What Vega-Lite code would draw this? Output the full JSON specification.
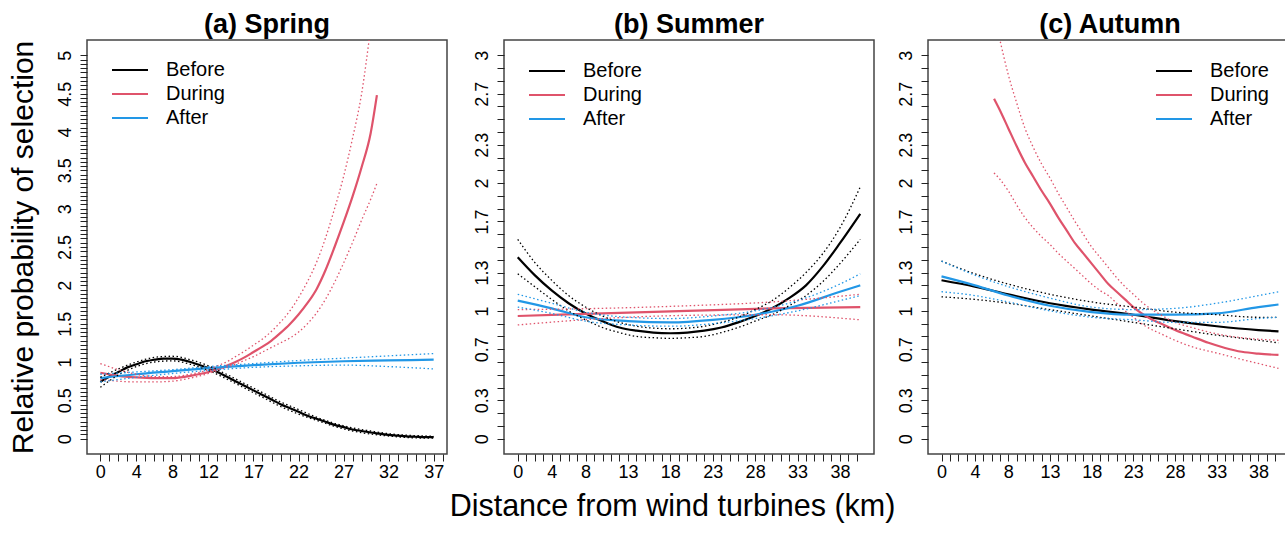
{
"$schema": "https://vega.github.io/schema/vega-lite/v6.json",
"padding": {"left": 7, "top": 10, "right": 0, "bottom": 0},
"config": {
 "font": "Liberation Sans",
 "view": {"stroke": "#444", "strokeWidth": 1.5},
 "axis": {"labelFontSize": 18, "labelColor": "#000", "tickColor": "#222", "tickSize": 7, "tickWidth": 1, "domain": false, "grid": false, "labelOverlap": false, "labelFlush": false, "labelBound": false, "titleColor": "#000", "titleFontWeight": "normal", "titleFontSize": 30},
 "title": {"fontSize": 27, "fontWeight": "bold", "color": "#000", "offset": 1},
 "legend": {"title": null, "symbolType": "M-2,0H2", "symbolSize": 324, "symbolStrokeWidth": 2, "labelFontSize": 20, "labelColor": "#000", "labelOffset": 26, "rowPadding": 4, "padding": 0}
},
"data": {"values": [
{"s":"Spring","p":"Before","c":"fit","x":0,"y":0.74},{"s":"Spring","p":"Before","c":"fit","x":1,"y":0.81},{"s":"Spring","p":"Before","c":"fit","x":2,"y":0.87},{"s":"Spring","p":"Before","c":"fit","x":3,"y":0.93},{"s":"Spring","p":"Before","c":"fit","x":4,"y":0.97},{"s":"Spring","p":"Before","c":"fit","x":5,"y":1.01},{"s":"Spring","p":"Before","c":"fit","x":6,"y":1.03},{"s":"Spring","p":"Before","c":"fit","x":7,"y":1.045},{"s":"Spring","p":"Before","c":"fit","x":8,"y":1.045},{"s":"Spring","p":"Before","c":"fit","x":9,"y":1.03},{"s":"Spring","p":"Before","c":"fit","x":10,"y":1.0},{"s":"Spring","p":"Before","c":"fit","x":11,"y":0.96},{"s":"Spring","p":"Before","c":"fit","x":12,"y":0.92},{"s":"Spring","p":"Before","c":"fit","x":13,"y":0.87},{"s":"Spring","p":"Before","c":"fit","x":14,"y":0.81},{"s":"Spring","p":"Before","c":"fit","x":15,"y":0.75},{"s":"Spring","p":"Before","c":"fit","x":16,"y":0.69},{"s":"Spring","p":"Before","c":"fit","x":17,"y":0.63},{"s":"Spring","p":"Before","c":"fit","x":18,"y":0.57},{"s":"Spring","p":"Before","c":"fit","x":19,"y":0.51},{"s":"Spring","p":"Before","c":"fit","x":20,"y":0.45},{"s":"Spring","p":"Before","c":"fit","x":21,"y":0.4},{"s":"Spring","p":"Before","c":"fit","x":22,"y":0.35},{"s":"Spring","p":"Before","c":"fit","x":23,"y":0.3},{"s":"Spring","p":"Before","c":"fit","x":24,"y":0.26},{"s":"Spring","p":"Before","c":"fit","x":25,"y":0.22},{"s":"Spring","p":"Before","c":"fit","x":26,"y":0.18},{"s":"Spring","p":"Before","c":"fit","x":27,"y":0.15},{"s":"Spring","p":"Before","c":"fit","x":28,"y":0.12},{"s":"Spring","p":"Before","c":"fit","x":29,"y":0.1},{"s":"Spring","p":"Before","c":"fit","x":30,"y":0.08},{"s":"Spring","p":"Before","c":"fit","x":31,"y":0.065},{"s":"Spring","p":"Before","c":"fit","x":32,"y":0.05},{"s":"Spring","p":"Before","c":"fit","x":33,"y":0.04},{"s":"Spring","p":"Before","c":"fit","x":34,"y":0.03},{"s":"Spring","p":"Before","c":"fit","x":35,"y":0.025},{"s":"Spring","p":"Before","c":"fit","x":36,"y":0.02},{"s":"Spring","p":"Before","c":"fit","x":37,"y":0.02},
{"s":"Spring","p":"Before","c":"upper","x":0,"y":0.8},{"s":"Spring","p":"Before","c":"upper","x":2,"y":0.91},{"s":"Spring","p":"Before","c":"upper","x":4,"y":1.0},{"s":"Spring","p":"Before","c":"upper","x":6,"y":1.06},{"s":"Spring","p":"Before","c":"upper","x":8,"y":1.075},{"s":"Spring","p":"Before","c":"upper","x":10,"y":1.03},{"s":"Spring","p":"Before","c":"upper","x":12,"y":0.95},{"s":"Spring","p":"Before","c":"upper","x":14,"y":0.84},{"s":"Spring","p":"Before","c":"upper","x":16,"y":0.72},{"s":"Spring","p":"Before","c":"upper","x":18,"y":0.6},{"s":"Spring","p":"Before","c":"upper","x":20,"y":0.48},{"s":"Spring","p":"Before","c":"upper","x":22,"y":0.38},{"s":"Spring","p":"Before","c":"upper","x":24,"y":0.28},{"s":"Spring","p":"Before","c":"upper","x":26,"y":0.2},{"s":"Spring","p":"Before","c":"upper","x":28,"y":0.14},{"s":"Spring","p":"Before","c":"upper","x":30,"y":0.1},{"s":"Spring","p":"Before","c":"upper","x":32,"y":0.065},{"s":"Spring","p":"Before","c":"upper","x":34,"y":0.045},{"s":"Spring","p":"Before","c":"upper","x":36,"y":0.035},{"s":"Spring","p":"Before","c":"upper","x":37,"y":0.03},
{"s":"Spring","p":"Before","c":"lower","x":0,"y":0.67},{"s":"Spring","p":"Before","c":"lower","x":2,"y":0.83},{"s":"Spring","p":"Before","c":"lower","x":4,"y":0.94},{"s":"Spring","p":"Before","c":"lower","x":6,"y":1.0},{"s":"Spring","p":"Before","c":"lower","x":8,"y":1.015},{"s":"Spring","p":"Before","c":"lower","x":10,"y":0.97},{"s":"Spring","p":"Before","c":"lower","x":12,"y":0.89},{"s":"Spring","p":"Before","c":"lower","x":14,"y":0.78},{"s":"Spring","p":"Before","c":"lower","x":16,"y":0.66},{"s":"Spring","p":"Before","c":"lower","x":18,"y":0.54},{"s":"Spring","p":"Before","c":"lower","x":20,"y":0.42},{"s":"Spring","p":"Before","c":"lower","x":22,"y":0.32},{"s":"Spring","p":"Before","c":"lower","x":24,"y":0.24},{"s":"Spring","p":"Before","c":"lower","x":26,"y":0.16},{"s":"Spring","p":"Before","c":"lower","x":28,"y":0.1},{"s":"Spring","p":"Before","c":"lower","x":30,"y":0.06},{"s":"Spring","p":"Before","c":"lower","x":32,"y":0.035},{"s":"Spring","p":"Before","c":"lower","x":34,"y":0.015},{"s":"Spring","p":"Before","c":"lower","x":36,"y":0.008},{"s":"Spring","p":"Before","c":"lower","x":37,"y":0.008},
{"s":"Spring","p":"During","c":"fit","x":0,"y":0.86},{"s":"Spring","p":"During","c":"fit","x":2,"y":0.82},{"s":"Spring","p":"During","c":"fit","x":4,"y":0.8},{"s":"Spring","p":"During","c":"fit","x":6,"y":0.79},{"s":"Spring","p":"During","c":"fit","x":8,"y":0.79},{"s":"Spring","p":"During","c":"fit","x":10,"y":0.82},{"s":"Spring","p":"During","c":"fit","x":12,"y":0.87},{"s":"Spring","p":"During","c":"fit","x":13,"y":0.91},{"s":"Spring","p":"During","c":"fit","x":14,"y":0.95},{"s":"Spring","p":"During","c":"fit","x":15,"y":1.0},{"s":"Spring","p":"During","c":"fit","x":16,"y":1.06},{"s":"Spring","p":"During","c":"fit","x":17,"y":1.13},{"s":"Spring","p":"During","c":"fit","x":18,"y":1.2},{"s":"Spring","p":"During","c":"fit","x":19,"y":1.28},{"s":"Spring","p":"During","c":"fit","x":20,"y":1.38},{"s":"Spring","p":"During","c":"fit","x":21,"y":1.49},{"s":"Spring","p":"During","c":"fit","x":22,"y":1.62},{"s":"Spring","p":"During","c":"fit","x":23,"y":1.77},{"s":"Spring","p":"During","c":"fit","x":24,"y":1.95},{"s":"Spring","p":"During","c":"fit","x":25,"y":2.2},{"s":"Spring","p":"During","c":"fit","x":26,"y":2.5},{"s":"Spring","p":"During","c":"fit","x":27,"y":2.82},{"s":"Spring","p":"During","c":"fit","x":28,"y":3.16},{"s":"Spring","p":"During","c":"fit","x":29,"y":3.54},{"s":"Spring","p":"During","c":"fit","x":30,"y":3.98},{"s":"Spring","p":"During","c":"fit","x":30.7,"y":4.48},
{"s":"Spring","p":"During","c":"upper","x":0,"y":0.98},{"s":"Spring","p":"During","c":"upper","x":2,"y":0.9},{"s":"Spring","p":"During","c":"upper","x":4,"y":0.84},{"s":"Spring","p":"During","c":"upper","x":6,"y":0.81},{"s":"Spring","p":"During","c":"upper","x":8,"y":0.81},{"s":"Spring","p":"During","c":"upper","x":10,"y":0.84},{"s":"Spring","p":"During","c":"upper","x":12,"y":0.9},{"s":"Spring","p":"During","c":"upper","x":13,"y":0.95},{"s":"Spring","p":"During","c":"upper","x":14,"y":1.0},{"s":"Spring","p":"During","c":"upper","x":15,"y":1.07},{"s":"Spring","p":"During","c":"upper","x":16,"y":1.14},{"s":"Spring","p":"During","c":"upper","x":17,"y":1.22},{"s":"Spring","p":"During","c":"upper","x":18,"y":1.3},{"s":"Spring","p":"During","c":"upper","x":19,"y":1.4},{"s":"Spring","p":"During","c":"upper","x":20,"y":1.52},{"s":"Spring","p":"During","c":"upper","x":21,"y":1.66},{"s":"Spring","p":"During","c":"upper","x":22,"y":1.84},{"s":"Spring","p":"During","c":"upper","x":23,"y":2.05},{"s":"Spring","p":"During","c":"upper","x":24,"y":2.3},{"s":"Spring","p":"During","c":"upper","x":25,"y":2.62},{"s":"Spring","p":"During","c":"upper","x":26,"y":3.0},{"s":"Spring","p":"During","c":"upper","x":27,"y":3.42},{"s":"Spring","p":"During","c":"upper","x":28,"y":3.92},{"s":"Spring","p":"During","c":"upper","x":29,"y":4.5},{"s":"Spring","p":"During","c":"upper","x":30,"y":5.35},{"s":"Spring","p":"During","c":"upper","x":30.7,"y":6.0},
{"s":"Spring","p":"During","c":"lower","x":0,"y":0.77},{"s":"Spring","p":"During","c":"lower","x":2,"y":0.75},{"s":"Spring","p":"During","c":"lower","x":4,"y":0.74},{"s":"Spring","p":"During","c":"lower","x":6,"y":0.74},{"s":"Spring","p":"During","c":"lower","x":8,"y":0.75},{"s":"Spring","p":"During","c":"lower","x":10,"y":0.79},{"s":"Spring","p":"During","c":"lower","x":12,"y":0.85},{"s":"Spring","p":"During","c":"lower","x":13,"y":0.89},{"s":"Spring","p":"During","c":"lower","x":14,"y":0.93},{"s":"Spring","p":"During","c":"lower","x":15,"y":0.97},{"s":"Spring","p":"During","c":"lower","x":16,"y":1.02},{"s":"Spring","p":"During","c":"lower","x":17,"y":1.07},{"s":"Spring","p":"During","c":"lower","x":18,"y":1.13},{"s":"Spring","p":"During","c":"lower","x":19,"y":1.19},{"s":"Spring","p":"During","c":"lower","x":20,"y":1.25},{"s":"Spring","p":"During","c":"lower","x":21,"y":1.31},{"s":"Spring","p":"During","c":"lower","x":22,"y":1.39},{"s":"Spring","p":"During","c":"lower","x":23,"y":1.5},{"s":"Spring","p":"During","c":"lower","x":24,"y":1.64},{"s":"Spring","p":"During","c":"lower","x":25,"y":1.82},{"s":"Spring","p":"During","c":"lower","x":26,"y":2.04},{"s":"Spring","p":"During","c":"lower","x":27,"y":2.29},{"s":"Spring","p":"During","c":"lower","x":28,"y":2.56},{"s":"Spring","p":"During","c":"lower","x":29,"y":2.85},{"s":"Spring","p":"During","c":"lower","x":30,"y":3.12},{"s":"Spring","p":"During","c":"lower","x":30.7,"y":3.33},
{"s":"Spring","p":"After","c":"fit","x":0,"y":0.79},{"s":"Spring","p":"After","c":"fit","x":4,"y":0.84},{"s":"Spring","p":"After","c":"fit","x":8,"y":0.88},{"s":"Spring","p":"After","c":"fit","x":12,"y":0.92},{"s":"Spring","p":"After","c":"fit","x":17,"y":0.96},{"s":"Spring","p":"After","c":"fit","x":22,"y":0.99},{"s":"Spring","p":"After","c":"fit","x":27,"y":1.01},{"s":"Spring","p":"After","c":"fit","x":32,"y":1.02},{"s":"Spring","p":"After","c":"fit","x":37,"y":1.03},
{"s":"Spring","p":"After","c":"upper","x":0,"y":0.84},{"s":"Spring","p":"After","c":"upper","x":4,"y":0.87},{"s":"Spring","p":"After","c":"upper","x":8,"y":0.9},{"s":"Spring","p":"After","c":"upper","x":12,"y":0.94},{"s":"Spring","p":"After","c":"upper","x":17,"y":0.98},{"s":"Spring","p":"After","c":"upper","x":22,"y":1.02},{"s":"Spring","p":"After","c":"upper","x":27,"y":1.05},{"s":"Spring","p":"After","c":"upper","x":32,"y":1.08},{"s":"Spring","p":"After","c":"upper","x":37,"y":1.11},
{"s":"Spring","p":"After","c":"lower","x":0,"y":0.74},{"s":"Spring","p":"After","c":"lower","x":4,"y":0.8},{"s":"Spring","p":"After","c":"lower","x":8,"y":0.85},{"s":"Spring","p":"After","c":"lower","x":12,"y":0.89},{"s":"Spring","p":"After","c":"lower","x":17,"y":0.93},{"s":"Spring","p":"After","c":"lower","x":22,"y":0.95},{"s":"Spring","p":"After","c":"lower","x":27,"y":0.96},{"s":"Spring","p":"After","c":"lower","x":32,"y":0.94},{"s":"Spring","p":"After","c":"lower","x":37,"y":0.91},
{"s":"Summer","p":"Before","c":"fit","x":0,"y":1.42},{"s":"Summer","p":"Before","c":"fit","x":2,"y":1.28},{"s":"Summer","p":"Before","c":"fit","x":4,"y":1.16},{"s":"Summer","p":"Before","c":"fit","x":6,"y":1.06},{"s":"Summer","p":"Before","c":"fit","x":8,"y":0.98},{"s":"Summer","p":"Before","c":"fit","x":10,"y":0.92},{"s":"Summer","p":"Before","c":"fit","x":12,"y":0.87},{"s":"Summer","p":"Before","c":"fit","x":14,"y":0.845},{"s":"Summer","p":"Before","c":"fit","x":16,"y":0.83},{"s":"Summer","p":"Before","c":"fit","x":18,"y":0.825},{"s":"Summer","p":"Before","c":"fit","x":20,"y":0.83},{"s":"Summer","p":"Before","c":"fit","x":22,"y":0.845},{"s":"Summer","p":"Before","c":"fit","x":24,"y":0.87},{"s":"Summer","p":"Before","c":"fit","x":26,"y":0.91},{"s":"Summer","p":"Before","c":"fit","x":28,"y":0.96},{"s":"Summer","p":"Before","c":"fit","x":30,"y":1.02},{"s":"Summer","p":"Before","c":"fit","x":32,"y":1.1},{"s":"Summer","p":"Before","c":"fit","x":34,"y":1.2},{"s":"Summer","p":"Before","c":"fit","x":36,"y":1.35},{"s":"Summer","p":"Before","c":"fit","x":38,"y":1.53},{"s":"Summer","p":"Before","c":"fit","x":40.4,"y":1.76},
{"s":"Summer","p":"Before","c":"upper","x":0,"y":1.56},{"s":"Summer","p":"Before","c":"upper","x":2,"y":1.38},{"s":"Summer","p":"Before","c":"upper","x":4,"y":1.24},{"s":"Summer","p":"Before","c":"upper","x":6,"y":1.12},{"s":"Summer","p":"Before","c":"upper","x":8,"y":1.03},{"s":"Summer","p":"Before","c":"upper","x":10,"y":0.96},{"s":"Summer","p":"Before","c":"upper","x":12,"y":0.91},{"s":"Summer","p":"Before","c":"upper","x":14,"y":0.88},{"s":"Summer","p":"Before","c":"upper","x":16,"y":0.865},{"s":"Summer","p":"Before","c":"upper","x":18,"y":0.86},{"s":"Summer","p":"Before","c":"upper","x":20,"y":0.865},{"s":"Summer","p":"Before","c":"upper","x":22,"y":0.88},{"s":"Summer","p":"Before","c":"upper","x":24,"y":0.91},{"s":"Summer","p":"Before","c":"upper","x":26,"y":0.95},{"s":"Summer","p":"Before","c":"upper","x":28,"y":1.01},{"s":"Summer","p":"Before","c":"upper","x":30,"y":1.08},{"s":"Summer","p":"Before","c":"upper","x":32,"y":1.18},{"s":"Summer","p":"Before","c":"upper","x":34,"y":1.3},{"s":"Summer","p":"Before","c":"upper","x":36,"y":1.45},{"s":"Summer","p":"Before","c":"upper","x":38,"y":1.65},{"s":"Summer","p":"Before","c":"upper","x":40.4,"y":1.97},
{"s":"Summer","p":"Before","c":"lower","x":0,"y":1.29},{"s":"Summer","p":"Before","c":"lower","x":2,"y":1.19},{"s":"Summer","p":"Before","c":"lower","x":4,"y":1.09},{"s":"Summer","p":"Before","c":"lower","x":6,"y":1.0},{"s":"Summer","p":"Before","c":"lower","x":8,"y":0.93},{"s":"Summer","p":"Before","c":"lower","x":10,"y":0.87},{"s":"Summer","p":"Before","c":"lower","x":12,"y":0.83},{"s":"Summer","p":"Before","c":"lower","x":14,"y":0.8},{"s":"Summer","p":"Before","c":"lower","x":16,"y":0.79},{"s":"Summer","p":"Before","c":"lower","x":18,"y":0.785},{"s":"Summer","p":"Before","c":"lower","x":20,"y":0.79},{"s":"Summer","p":"Before","c":"lower","x":22,"y":0.8},{"s":"Summer","p":"Before","c":"lower","x":24,"y":0.83},{"s":"Summer","p":"Before","c":"lower","x":26,"y":0.87},{"s":"Summer","p":"Before","c":"lower","x":28,"y":0.92},{"s":"Summer","p":"Before","c":"lower","x":30,"y":0.97},{"s":"Summer","p":"Before","c":"lower","x":32,"y":1.04},{"s":"Summer","p":"Before","c":"lower","x":34,"y":1.12},{"s":"Summer","p":"Before","c":"lower","x":36,"y":1.23},{"s":"Summer","p":"Before","c":"lower","x":38,"y":1.37},{"s":"Summer","p":"Before","c":"lower","x":40.4,"y":1.56},
{"s":"Summer","p":"During","c":"fit","x":0,"y":0.96},{"s":"Summer","p":"During","c":"fit","x":10,"y":0.98},{"s":"Summer","p":"During","c":"fit","x":20,"y":1.0},{"s":"Summer","p":"During","c":"fit","x":30,"y":1.02},{"s":"Summer","p":"During","c":"fit","x":40.4,"y":1.03},
{"s":"Summer","p":"During","c":"upper","x":0,"y":1.01},{"s":"Summer","p":"During","c":"upper","x":10,"y":1.02},{"s":"Summer","p":"During","c":"upper","x":20,"y":1.04},{"s":"Summer","p":"During","c":"upper","x":30,"y":1.07},{"s":"Summer","p":"During","c":"upper","x":40.4,"y":1.13},
{"s":"Summer","p":"During","c":"lower","x":0,"y":0.89},{"s":"Summer","p":"During","c":"lower","x":10,"y":0.94},{"s":"Summer","p":"During","c":"lower","x":20,"y":0.965},{"s":"Summer","p":"During","c":"lower","x":30,"y":0.97},{"s":"Summer","p":"During","c":"lower","x":40.4,"y":0.93},
{"s":"Summer","p":"After","c":"fit","x":0,"y":1.08},{"s":"Summer","p":"After","c":"fit","x":4,"y":1.02},{"s":"Summer","p":"After","c":"fit","x":8,"y":0.95},{"s":"Summer","p":"After","c":"fit","x":13,"y":0.92},{"s":"Summer","p":"After","c":"fit","x":18,"y":0.91},{"s":"Summer","p":"After","c":"fit","x":23,"y":0.93},{"s":"Summer","p":"After","c":"fit","x":28,"y":0.97},{"s":"Summer","p":"After","c":"fit","x":33,"y":1.04},{"s":"Summer","p":"After","c":"fit","x":38,"y":1.15},{"s":"Summer","p":"After","c":"fit","x":40.4,"y":1.2},
{"s":"Summer","p":"After","c":"upper","x":0,"y":1.13},{"s":"Summer","p":"After","c":"upper","x":4,"y":1.06},{"s":"Summer","p":"After","c":"upper","x":8,"y":0.99},{"s":"Summer","p":"After","c":"upper","x":13,"y":0.95},{"s":"Summer","p":"After","c":"upper","x":18,"y":0.94},{"s":"Summer","p":"After","c":"upper","x":23,"y":0.96},{"s":"Summer","p":"After","c":"upper","x":28,"y":1.0},{"s":"Summer","p":"After","c":"upper","x":33,"y":1.08},{"s":"Summer","p":"After","c":"upper","x":38,"y":1.21},{"s":"Summer","p":"After","c":"upper","x":40.4,"y":1.29},
{"s":"Summer","p":"After","c":"lower","x":0,"y":1.03},{"s":"Summer","p":"After","c":"lower","x":4,"y":0.98},{"s":"Summer","p":"After","c":"lower","x":8,"y":0.92},{"s":"Summer","p":"After","c":"lower","x":13,"y":0.89},{"s":"Summer","p":"After","c":"lower","x":18,"y":0.88},{"s":"Summer","p":"After","c":"lower","x":23,"y":0.9},{"s":"Summer","p":"After","c":"lower","x":28,"y":0.94},{"s":"Summer","p":"After","c":"lower","x":33,"y":1.0},{"s":"Summer","p":"After","c":"lower","x":38,"y":1.08},{"s":"Summer","p":"After","c":"lower","x":40.4,"y":1.12},
{"s":"Autumn","p":"Before","c":"fit","x":0,"y":1.24},{"s":"Autumn","p":"Before","c":"fit","x":4,"y":1.19},{"s":"Autumn","p":"Before","c":"fit","x":8,"y":1.13},{"s":"Autumn","p":"Before","c":"fit","x":13,"y":1.06},{"s":"Autumn","p":"Before","c":"fit","x":18,"y":1.01},{"s":"Autumn","p":"Before","c":"fit","x":23,"y":0.97},{"s":"Autumn","p":"Before","c":"fit","x":28,"y":0.92},{"s":"Autumn","p":"Before","c":"fit","x":33,"y":0.88},{"s":"Autumn","p":"Before","c":"fit","x":38,"y":0.85},{"s":"Autumn","p":"Before","c":"fit","x":40.4,"y":0.84},
{"s":"Autumn","p":"Before","c":"upper","x":0,"y":1.39},{"s":"Autumn","p":"Before","c":"upper","x":4,"y":1.29},{"s":"Autumn","p":"Before","c":"upper","x":8,"y":1.21},{"s":"Autumn","p":"Before","c":"upper","x":13,"y":1.13},{"s":"Autumn","p":"Before","c":"upper","x":18,"y":1.07},{"s":"Autumn","p":"Before","c":"upper","x":23,"y":1.03},{"s":"Autumn","p":"Before","c":"upper","x":28,"y":0.99},{"s":"Autumn","p":"Before","c":"upper","x":33,"y":0.97},{"s":"Autumn","p":"Before","c":"upper","x":38,"y":0.95},{"s":"Autumn","p":"Before","c":"upper","x":40.4,"y":0.95},
{"s":"Autumn","p":"Before","c":"lower","x":0,"y":1.11},{"s":"Autumn","p":"Before","c":"lower","x":4,"y":1.09},{"s":"Autumn","p":"Before","c":"lower","x":8,"y":1.06},{"s":"Autumn","p":"Before","c":"lower","x":13,"y":1.01},{"s":"Autumn","p":"Before","c":"lower","x":18,"y":0.96},{"s":"Autumn","p":"Before","c":"lower","x":23,"y":0.91},{"s":"Autumn","p":"Before","c":"lower","x":28,"y":0.86},{"s":"Autumn","p":"Before","c":"lower","x":33,"y":0.81},{"s":"Autumn","p":"Before","c":"lower","x":38,"y":0.77},{"s":"Autumn","p":"Before","c":"lower","x":40.4,"y":0.75},
{"s":"Autumn","p":"During","c":"fit","x":6.3,"y":2.66},{"s":"Autumn","p":"During","c":"fit","x":7,"y":2.57},{"s":"Autumn","p":"During","c":"fit","x":8,"y":2.43},{"s":"Autumn","p":"During","c":"fit","x":9,"y":2.29},{"s":"Autumn","p":"During","c":"fit","x":10,"y":2.16},{"s":"Autumn","p":"During","c":"fit","x":11,"y":2.05},{"s":"Autumn","p":"During","c":"fit","x":12,"y":1.94},{"s":"Autumn","p":"During","c":"fit","x":13,"y":1.84},{"s":"Autumn","p":"During","c":"fit","x":14,"y":1.73},{"s":"Autumn","p":"During","c":"fit","x":15,"y":1.63},{"s":"Autumn","p":"During","c":"fit","x":16,"y":1.53},{"s":"Autumn","p":"During","c":"fit","x":17,"y":1.45},{"s":"Autumn","p":"During","c":"fit","x":18,"y":1.37},{"s":"Autumn","p":"During","c":"fit","x":19,"y":1.29},{"s":"Autumn","p":"During","c":"fit","x":20,"y":1.21},{"s":"Autumn","p":"During","c":"fit","x":21,"y":1.15},{"s":"Autumn","p":"During","c":"fit","x":22,"y":1.09},{"s":"Autumn","p":"During","c":"fit","x":23,"y":1.03},{"s":"Autumn","p":"During","c":"fit","x":24,"y":0.98},{"s":"Autumn","p":"During","c":"fit","x":25,"y":0.94},{"s":"Autumn","p":"During","c":"fit","x":26,"y":0.91},{"s":"Autumn","p":"During","c":"fit","x":27,"y":0.88},{"s":"Autumn","p":"During","c":"fit","x":28,"y":0.85},{"s":"Autumn","p":"During","c":"fit","x":30,"y":0.8},{"s":"Autumn","p":"During","c":"fit","x":32,"y":0.75},{"s":"Autumn","p":"During","c":"fit","x":34,"y":0.71},{"s":"Autumn","p":"During","c":"fit","x":36,"y":0.68},{"s":"Autumn","p":"During","c":"fit","x":38,"y":0.665},{"s":"Autumn","p":"During","c":"fit","x":40.4,"y":0.655},
{"s":"Autumn","p":"During","c":"upper","x":6.3,"y":3.32},{"s":"Autumn","p":"During","c":"upper","x":7,"y":3.12},{"s":"Autumn","p":"During","c":"upper","x":8,"y":2.85},{"s":"Autumn","p":"During","c":"upper","x":9,"y":2.63},{"s":"Autumn","p":"During","c":"upper","x":10,"y":2.43},{"s":"Autumn","p":"During","c":"upper","x":11,"y":2.28},{"s":"Autumn","p":"During","c":"upper","x":12,"y":2.15},{"s":"Autumn","p":"During","c":"upper","x":13,"y":2.04},{"s":"Autumn","p":"During","c":"upper","x":14,"y":1.92},{"s":"Autumn","p":"During","c":"upper","x":15,"y":1.81},{"s":"Autumn","p":"During","c":"upper","x":16,"y":1.7},{"s":"Autumn","p":"During","c":"upper","x":17,"y":1.6},{"s":"Autumn","p":"During","c":"upper","x":18,"y":1.5},{"s":"Autumn","p":"During","c":"upper","x":19,"y":1.42},{"s":"Autumn","p":"During","c":"upper","x":20,"y":1.34},{"s":"Autumn","p":"During","c":"upper","x":21,"y":1.26},{"s":"Autumn","p":"During","c":"upper","x":22,"y":1.19},{"s":"Autumn","p":"During","c":"upper","x":23,"y":1.13},{"s":"Autumn","p":"During","c":"upper","x":24,"y":1.07},{"s":"Autumn","p":"During","c":"upper","x":25,"y":1.02},{"s":"Autumn","p":"During","c":"upper","x":26,"y":0.98},{"s":"Autumn","p":"During","c":"upper","x":28,"y":0.91},{"s":"Autumn","p":"During","c":"upper","x":30,"y":0.87},{"s":"Autumn","p":"During","c":"upper","x":33,"y":0.82},{"s":"Autumn","p":"During","c":"upper","x":36,"y":0.79},{"s":"Autumn","p":"During","c":"upper","x":40.4,"y":0.77},
{"s":"Autumn","p":"During","c":"lower","x":6.3,"y":2.08},{"s":"Autumn","p":"During","c":"lower","x":7,"y":2.03},{"s":"Autumn","p":"During","c":"lower","x":8,"y":1.94},{"s":"Autumn","p":"During","c":"lower","x":9,"y":1.83},{"s":"Autumn","p":"During","c":"lower","x":10,"y":1.73},{"s":"Autumn","p":"During","c":"lower","x":11,"y":1.65},{"s":"Autumn","p":"During","c":"lower","x":12,"y":1.58},{"s":"Autumn","p":"During","c":"lower","x":13,"y":1.52},{"s":"Autumn","p":"During","c":"lower","x":14,"y":1.45},{"s":"Autumn","p":"During","c":"lower","x":15,"y":1.39},{"s":"Autumn","p":"During","c":"lower","x":16,"y":1.33},{"s":"Autumn","p":"During","c":"lower","x":17,"y":1.27},{"s":"Autumn","p":"During","c":"lower","x":18,"y":1.21},{"s":"Autumn","p":"During","c":"lower","x":19,"y":1.16},{"s":"Autumn","p":"During","c":"lower","x":20,"y":1.12},{"s":"Autumn","p":"During","c":"lower","x":21,"y":1.06},{"s":"Autumn","p":"During","c":"lower","x":22,"y":1.0},{"s":"Autumn","p":"During","c":"lower","x":23,"y":0.95},{"s":"Autumn","p":"During","c":"lower","x":24,"y":0.9},{"s":"Autumn","p":"During","c":"lower","x":25,"y":0.86},{"s":"Autumn","p":"During","c":"lower","x":26,"y":0.83},{"s":"Autumn","p":"During","c":"lower","x":28,"y":0.77},{"s":"Autumn","p":"During","c":"lower","x":30,"y":0.72},{"s":"Autumn","p":"During","c":"lower","x":33,"y":0.67},{"s":"Autumn","p":"During","c":"lower","x":36,"y":0.62},{"s":"Autumn","p":"During","c":"lower","x":40.4,"y":0.55},
{"s":"Autumn","p":"After","c":"fit","x":0,"y":1.27},{"s":"Autumn","p":"After","c":"fit","x":4,"y":1.2},{"s":"Autumn","p":"After","c":"fit","x":8,"y":1.12},{"s":"Autumn","p":"After","c":"fit","x":13,"y":1.04},{"s":"Autumn","p":"After","c":"fit","x":18,"y":0.99},{"s":"Autumn","p":"After","c":"fit","x":23,"y":0.97},{"s":"Autumn","p":"After","c":"fit","x":28,"y":0.97},{"s":"Autumn","p":"After","c":"fit","x":33,"y":0.98},{"s":"Autumn","p":"After","c":"fit","x":38,"y":1.03},{"s":"Autumn","p":"After","c":"fit","x":40.4,"y":1.05},
{"s":"Autumn","p":"After","c":"upper","x":0,"y":1.39},{"s":"Autumn","p":"After","c":"upper","x":4,"y":1.28},{"s":"Autumn","p":"After","c":"upper","x":8,"y":1.19},{"s":"Autumn","p":"After","c":"upper","x":13,"y":1.1},{"s":"Autumn","p":"After","c":"upper","x":18,"y":1.03},{"s":"Autumn","p":"After","c":"upper","x":23,"y":1.01},{"s":"Autumn","p":"After","c":"upper","x":28,"y":1.02},{"s":"Autumn","p":"After","c":"upper","x":33,"y":1.06},{"s":"Autumn","p":"After","c":"upper","x":38,"y":1.12},{"s":"Autumn","p":"After","c":"upper","x":40.4,"y":1.15},
{"s":"Autumn","p":"After","c":"lower","x":0,"y":1.15},{"s":"Autumn","p":"After","c":"lower","x":4,"y":1.12},{"s":"Autumn","p":"After","c":"lower","x":8,"y":1.07},{"s":"Autumn","p":"After","c":"lower","x":13,"y":1.0},{"s":"Autumn","p":"After","c":"lower","x":18,"y":0.95},{"s":"Autumn","p":"After","c":"lower","x":23,"y":0.93},{"s":"Autumn","p":"After","c":"lower","x":28,"y":0.91},{"s":"Autumn","p":"After","c":"lower","x":33,"y":0.91},{"s":"Autumn","p":"After","c":"lower","x":38,"y":0.94},{"s":"Autumn","p":"After","c":"lower","x":40.4,"y":0.95}
]},
"resolve": {"scale": {"color": "independent"}, "legend": {"color": "independent"}},
"spacing": 0,
"hconcat": [
 {
  "title": "(a) Spring",
  "width": 360, "height": 414,
  "transform": [{"filter": "datum.s === 'Spring'"}],
  "encoding": {
   "x": {"field": "x", "type": "quantitative", "scale": {"domain": [-1.48, 38.48], "nice": false, "zero": false},
    "axis": {"title": null, "values": [0,1,2,3,4,5,6,7,8,9,10,11,12,13,14,15,16,17,18,19,20,21,22,23,24,25,26,27,28,29,30,31,32,33,34,35,36,37,38], "labelPadding": 2,
     "labelExpr": "indexof([0,4,8,12,17,22,27,32,37], datum.value) >= 0 ? '' + datum.value : ''"}},
   "y": {"field": "y", "type": "quantitative", "scale": {"domain": [-0.2, 5.2], "nice": false, "zero": false},
    "axis": {"title": "Relative probability of selection", "titlePadding": 18, "labelAngle": 270, "labelAlign": "center", "labelBaseline": "alphabetic", "labelPadding": 10,
     "values": [0,0.0556,0.1111,0.1667,0.2222,0.2778,0.3333,0.3889,0.4444,0.5,0.5556,0.6111,0.6667,0.7222,0.7778,0.8333,0.8889,0.9444,1,1.0556,1.1111,1.1667,1.2222,1.2778,1.3333,1.3889,1.4444,1.5,1.5556,1.6111,1.6667,1.7222,1.7778,1.8333,1.8889,1.9444,2,2.0556,2.1111,2.1667,2.2222,2.2778,2.3333,2.3889,2.4444,2.5,2.5556,2.6111,2.6667,2.7222,2.7778,2.8333,2.8889,2.9444,3,3.0556,3.1111,3.1667,3.2222,3.2778,3.3333,3.3889,3.4444,3.5,3.5556,3.6111,3.6667,3.7222,3.7778,3.8333,3.8889,3.9444,4,4.0556,4.1111,4.1667,4.2222,4.2778,4.3333,4.3889,4.4444,4.5,4.5556,4.6111,4.6667,4.7222,4.7778,4.8333,4.8889,4.9444,5],
     "labelExpr": "abs(datum.value*2 - round(datum.value*2)) < 0.01 ? format(datum.value, '~g') : ''"}},
   "color": {"field": "p", "type": "nominal", "scale": {"domain": ["Before", "During", "After"], "range": ["#000000", "#DF536B", "#2297E6"]},
    "legend": {"orient": "none", "legendX": 33, "legendY": 20}}
  },
  "layer": [
   {"transform": [{"filter": "datum.c === 'fit'"}], "mark": {"type": "line", "strokeWidth": 2.2, "clip": true, "interpolate": "monotone"}},
   {"transform": [{"filter": "datum.c !== 'fit'"}], "mark": {"type": "line", "strokeWidth": 1.3, "strokeDash": [1.5, 2.5], "clip": true, "interpolate": "monotone"}, "encoding": {"detail": {"field": "c"}}}
  ]
 },
 {
  "spacing": 0,
  "resolve": {"scale": {"color": "independent"}, "legend": {"color": "independent"}},
  "hconcat": [
   {
    "title": "(b) Summer",
    "width": 370, "height": 414,
    "transform": [{"filter": "datum.s === 'Summer'"}],
    "encoding": {
     "x": {"field": "x", "type": "quantitative", "scale": {"domain": [-1.62, 42.02], "nice": false, "zero": false},
      "axis": {"title": "Distance from wind turbines (km)", "titleFontSize": 30.5, "titleX": 168, "titlePadding": 10, "values": [0,1,2,3,4,5,6,7,8,9,10,11,12,13,14,15,16,17,18,19,20,21,22,23,24,25,26,27,28,29,30,31,32,33,34,35,36,37,38,39,40], "labelPadding": 2,
       "labelExpr": "indexof([0,4,8,13,18,23,28,33,38], datum.value) >= 0 ? '' + datum.value : ''"}},
     "y": {"field": "y", "type": "quantitative", "scale": {"domain": [-0.12, 3.12], "nice": false, "zero": false},
      "axis": {"title": null, "labelAngle": 270, "labelAlign": "center", "labelBaseline": "alphabetic", "labelPadding": 10,
       "values": [0,0.1,0.2,0.3,0.4,0.5,0.6,0.7,0.8,0.9,1,1.1,1.2,1.3,1.4,1.5,1.6,1.7,1.8,1.9,2,2.1,2.2,2.3,2.4,2.5,2.6,2.7,2.8,2.9,3],
       "labelExpr": "indexof([0,0.3,0.7,1,1.3,1.7,2,2.3,2.7,3], round(datum.value*10)/10) >= 0 ? format(datum.value, '~g') : ''"}},
     "color": {"field": "p", "type": "nominal", "scale": {"domain": ["Before", "During", "After"], "range": ["#000000", "#DF536B", "#2297E6"]},
      "legend": {"orient": "none", "legendX": 33, "legendY": 21}}
    },
    "layer": [
     {"transform": [{"filter": "datum.c === 'fit'"}], "mark": {"type": "line", "strokeWidth": 2.2, "clip": true, "interpolate": "monotone"}},
     {"transform": [{"filter": "datum.c !== 'fit'"}], "mark": {"type": "line", "strokeWidth": 1.3, "strokeDash": [1.5, 2.5], "clip": true, "interpolate": "monotone"}, "encoding": {"detail": {"field": "c"}}}
    ]
   },
   {
    "title": "(c) Autumn",
    "width": 364, "height": 414,
    "transform": [{"filter": "datum.s === 'Autumn'"}],
    "encoding": {
     "x": {"field": "x", "type": "quantitative", "scale": {"domain": [-1.62, 42.02], "nice": false, "zero": false},
      "axis": {"title": null, "values": [0,1,2,3,4,5,6,7,8,9,10,11,12,13,14,15,16,17,18,19,20,21,22,23,24,25,26,27,28,29,30,31,32,33,34,35,36,37,38,39,40], "labelPadding": 2,
       "labelExpr": "indexof([0,4,8,13,18,23,28,33,38], datum.value) >= 0 ? '' + datum.value : ''"}},
     "y": {"field": "y", "type": "quantitative", "scale": {"domain": [-0.12, 3.12], "nice": false, "zero": false},
      "axis": {"title": null, "labelAngle": 270, "labelAlign": "center", "labelBaseline": "alphabetic", "labelPadding": 10,
       "values": [0,0.1,0.2,0.3,0.4,0.5,0.6,0.7,0.8,0.9,1,1.1,1.2,1.3,1.4,1.5,1.6,1.7,1.8,1.9,2,2.1,2.2,2.3,2.4,2.5,2.6,2.7,2.8,2.9,3],
       "labelExpr": "indexof([0,0.3,0.7,1,1.3,1.7,2,2.3,2.7,3], round(datum.value*10)/10) >= 0 ? format(datum.value, '~g') : ''"}},
     "color": {"field": "p", "type": "nominal", "scale": {"domain": ["Before", "During", "After"], "range": ["#000000", "#DF536B", "#2297E6"]},
      "legend": {"orient": "none", "legendX": 236, "legendY": 21}}
    },
    "layer": [
     {"transform": [{"filter": "datum.c === 'fit'"}], "mark": {"type": "line", "strokeWidth": 2.2, "clip": true, "interpolate": "monotone"}},
     {"transform": [{"filter": "datum.c !== 'fit'"}], "mark": {"type": "line", "strokeWidth": 1.3, "strokeDash": [1.5, 2.5], "clip": true, "interpolate": "monotone"}, "encoding": {"detail": {"field": "c"}}}
    ]
   }
  ]
 }
]
}
